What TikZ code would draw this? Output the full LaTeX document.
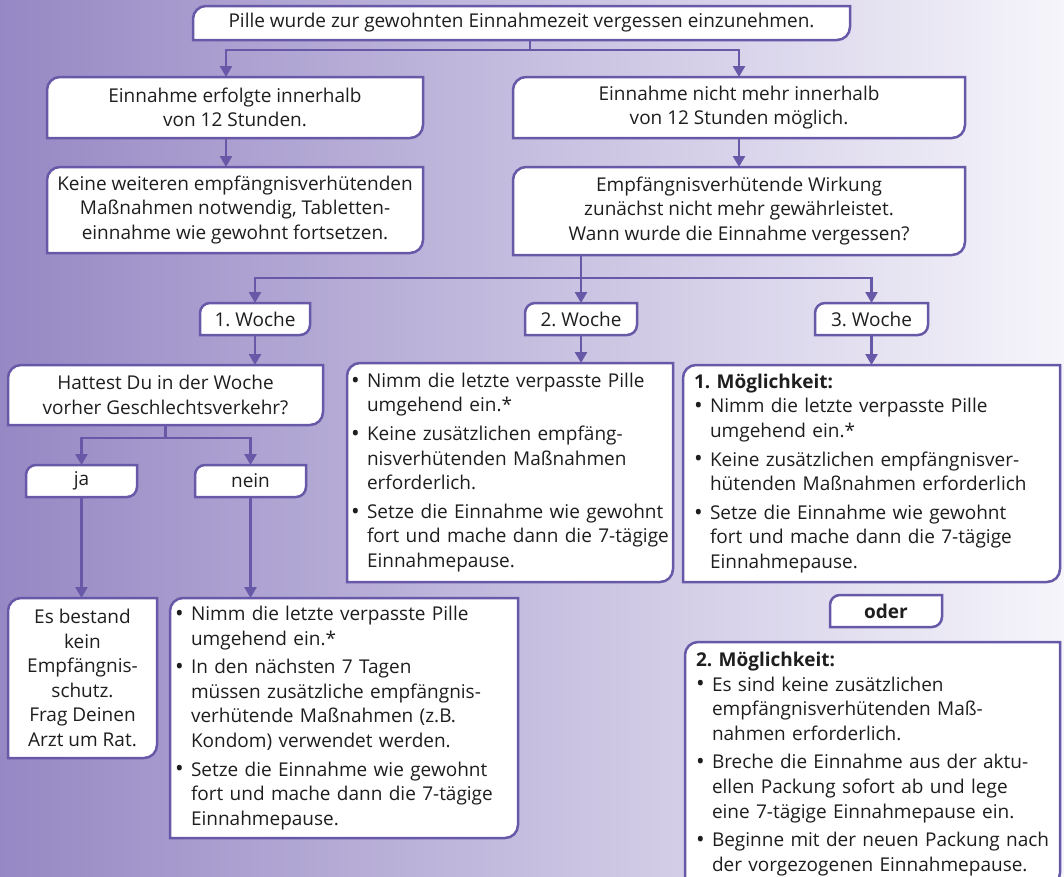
\documentclass[tikz,border=0pt]{standalone}
\usepackage{fontspec}
\setmainfont{Open Sans}
\usetikzlibrary{arrows.meta,calc}
\pgfdeclarelayer{back}
\pgfdeclarelayer{boxes}
\pgfsetlayers{back,boxes,main}
\definecolor{lnc}{RGB}{104,88,168}
\definecolor{txtc}{RGB}{30,30,30}
\definecolor{bgL}{RGB}{150,136,196}
\definecolor{bgR}{RGB}{246,245,251}
\newcommand\bl[1]{\mbox{\makebox[16pt][l]{\raisebox{-0.8pt}{\fontsize{23}{23}\selectfont\textbullet}}#1}}
\newcommand\cl[1]{\mbox{\hspace*{16pt}#1}}
% box node from corners (x1,y1)-(x2,y2), y measured downward
\newcommand\bx[7][]{\node[#1,minimum width={(#5-#3)*1pt},minimum height={(#6-#4)*1pt}] (#2) at ({(#3+#5)/2},{-(#4+#6)/2}) {#7};}
\newcommand\pframe[2][9]{%
  \path (#2.north west) coordinate (pfA) (#2.south east) coordinate (pfB);
  \filldraw[boxframe] (pfA) ++(0,-#1) arc[start angle=180,end angle=90,radius=#1] -- (pfA -| pfB) -- ($(pfB)+(0,#1)$) arc[start angle=0,end angle=-90,radius=#1] -- (pfB -| pfA) -- cycle;}
\frenchspacing
\begin{document}
\begin{tikzpicture}[x=1pt,y=1pt,
  font=\fontsize{19}{24.6}\selectfont\frenchspacing, text=txtc,
  cbox/.style={inner sep=0pt,outer sep=0pt,align=center},
  lbox/.style={inner ysep=0pt,outer sep=0pt,align=left},
  boxframe/.style={draw=lnc,fill=white,line width=2.5pt},
  conn/.style={draw=lnc,line width=2.5pt},
  arr/.style={conn,-{Triangle[width=12pt,length=11pt]}},
]
\useasboundingbox (0,0) rectangle (1064,-876);
\begin{pgfonlayer}{back}
\shade[left color=bgL,right color=bgR] (0,0) rectangle (1064,-876);
\end{pgfonlayer}

\bx[cbox]{top}{193}{6}{850}{40}{Pille wurde zur gewohnten Einnahmezeit vergessen einzunehmen.}
\bx[cbox]{e1}{47}{77}{423}{138}{Einnahme erfolgte innerhalb\\von 12 Stunden.}
\bx[cbox]{e2}{513}{77}{965}{138}{Einnahme nicht mehr innerhalb\\von 12 Stunden möglich.}
\bx[cbox]{k1}{47}{167}{423}{253}{Keine weiteren empfängnisverhütenden\\Maßnahmen notwendig, Tabletten-\\einnahme wie gewohnt fortsetzen.}
\bx[cbox]{k2}{513}{167}{965}{255}{Empfängnisverhütende Wirkung\\zunächst nicht mehr gewährleistet.\\Wann wurde die Einnahme vergessen?}
\bx[cbox]{w1}{200}{303}{310}{335}{1. Woche}
\bx[cbox]{w2}{525}{303}{637}{335}{2. Woche}
\bx[cbox]{w3}{815}{303}{928}{335}{3. Woche}
\bx[cbox]{h}{8}{365}{323}{425}{Hattest Du in der Woche\\vorher Geschlechtsverkehr?}
\bx[lbox,inner xsep=4pt,text width=318pt]{b2}{347}{363}{673}{582}{%
\bl{Nimm die letzte verpasste Pille}\\\cl{umgehend ein.*}\\[4pt]
\bl{Keine zusätzlichen empfäng-}\\\cl{nisverhütenden Maßnahmen}\\\cl{erforderlich.}\\[4pt]
\bl{Setze die Einnahme wie gewohnt}\\\cl{fort und mache dann die 7-tägige}\\\cl{Einnahmepause.}}
\bx[lbox,inner xsep=11pt,text width=355pt]{b3}{683}{365}{1060}{582}{%
\textbf{1. Möglichkeit:}\\
\bl{Nimm die letzte verpasste Pille}\\\cl{umgehend ein.*}\\[4pt]
\bl{Keine zusätzlichen empfängnisver-}\\\cl{hütenden Maßnahmen erforderlich}\\[4pt]
\bl{Setze die Einnahme wie gewohnt}\\\cl{fort und mache dann die 7-tägige}\\\cl{Einnahmepause.}}
\bx[cbox]{ja}{26}{465}{137}{497}{ja}
\bx[cbox]{nein}{195}{465}{306}{497}{nein}
\bx[cbox]{es}{8}{598}{157}{758}{Es bestand\\kein\\Empfängnis-\\schutz.\\Frag Deinen\\Arzt um Rat.}
\bx[lbox,inner xsep=5pt,text width=338pt]{bn}{170}{598}{518}{838}{%
\bl{Nimm die letzte verpasste Pille}\\\cl{umgehend ein.*}\\[4pt]
\bl{In den nächsten 7 Tagen}\\\cl{müssen zusätzliche empfängnis-}\\\cl{verhütende Maßnahmen (z.B.}\\\cl{Kondom) verwendet werden.}\\[4pt]
\bl{Setze die Einnahme wie gewohnt}\\\cl{fort und mache dann die 7-tägige}\\\cl{Einnahmepause.}}
\bx[cbox]{oder}{830}{595}{942}{627}{\textbf{oder}}
\bx[lbox,inner xsep=11pt,text width=353pt]{m2}{685}{642}{1060}{886}{%
\textbf{2. Möglichkeit:}\\
\bl{Es sind keine zusätzlichen}\\\cl{empfängnisverhütenden Maß-}\\\cl{nahmen erforderlich.}\\[4pt]
\bl{Breche die Einnahme aus der aktu-}\\\cl{ellen Packung sofort ab und lege}\\\cl{eine 7-tägige Einnahmepause ein.}\\[4pt]
\bl{Beginne mit der neuen Packung nach}\\\cl{der vorgezogenen Einnahmepause.}}

\begin{pgfonlayer}{boxes}
\begin{scope}
\clip (0,0) rectangle (1064,-876);
\foreach \n in {top,e1,e2,k1,k2,h,b2,b3,es,bn,m2} {\pframe[13]{\n}}
\foreach \n in {w1,w2,w3,ja,nein,oder} {\pframe[10]{\n}}
\end{scope}
\end{pgfonlayer}

% connectors
\draw[conn] ([xshift=8.5pt]top.south) -- ++(0,-10) coordinate (j1);
\draw[arr] (j1) -| ([xshift=-9pt]e1.north);
\draw[arr] (j1) -| (e2.north);
\draw[arr] ([xshift=-9pt]e1.south) -- ([xshift=-9pt]k1.north);
\draw[arr] (e2.south) -- (k2.north);
\coordinate (jw) at ($(k2.south -| w2.north)+(0,-23)$);
\draw[arr] (k2.south -| w2.north) -- (w2.north);
\draw[arr] (jw) -| (w1.north);
\draw[arr] (jw) -| (w3.north);
\draw[arr] (w1.south) -- (w1.south |- h.north);
\draw[arr] (w2.south) -- (w2.south |- b2.north);
\draw[arr] (w3.south) -- (w3.south |- b3.north);
\draw[conn] (h.south) -- ++(0,-13) coordinate (jh);
\draw[arr] (jh) -| (ja.north);
\draw[arr] (jh) -| (nein.north);
\draw[arr] (ja.south) -- (ja.south |- es.north);
\draw[arr] (nein.south) -- (nein.south |- bn.north);
\end{tikzpicture}
\end{document}
